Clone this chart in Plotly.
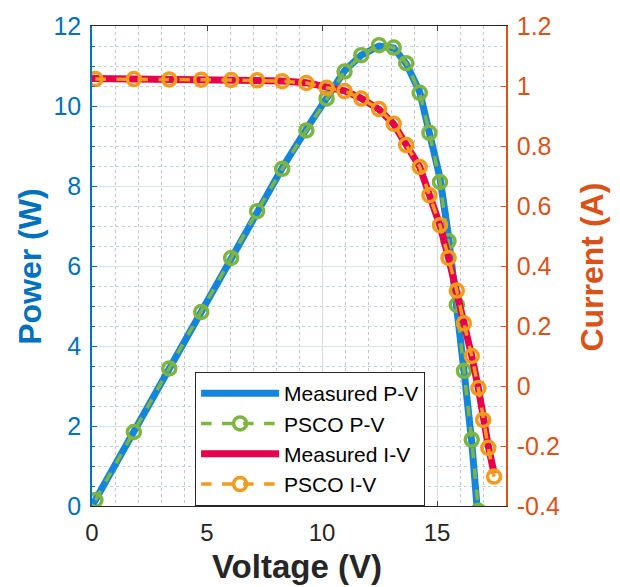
import plotly.graph_objects as go

# ---- data ----
voltage_psco = [0.15, 1.82, 3.36, 4.75, 6.05, 7.18, 8.27, 9.32, 10.2, 10.98, 11.71, 12.48,
                13.12, 13.66, 14.25, 14.67, 15.13, 15.5, 15.86, 16.17, 16.51, 16.8, 17.01,
                17.23, 17.48]
power_psco = [0.15, 1.85, 3.44, 4.85, 6.2, 7.37, 8.43, 9.39, 10.19, 10.86, 11.27, 11.52,
              11.46, 11.07, 10.33, 9.33, 8.1, 6.62, 5.03, 3.38, 1.66, -0.12, -1.9, -3.55, -5.3]
current_psco = [1.023, 1.023, 1.022, 1.021, 1.02, 1.019, 1.016, 1.01, 0.994, 0.983, 0.958,
                0.923, 0.874, 0.803, 0.73, 0.636, 0.536, 0.427, 0.318, 0.209, 0.1, -0.007,
                -0.113, -0.206, -0.302]

voltage_meas = [0.0, 1.82, 3.36, 4.75, 6.05, 7.18, 8.27, 9.32, 10.2, 10.98, 11.71, 12.48,
                13.12, 13.66, 14.25, 14.67, 15.13, 15.5, 15.86, 16.17, 16.51, 16.8, 17.01,
                17.23, 17.48]
power_meas = [0.0, 1.86, 3.44, 4.86, 6.19, 7.35, 8.45, 9.42, 10.2, 10.88, 11.27, 11.5,
              11.45, 11.06, 10.35, 9.38, 8.2, 6.75, 5.1, 3.4, 1.6, -0.3, -2.0, -3.6, -5.2]
current_meas = [1.025, 1.024, 1.023, 1.022, 1.021, 1.02, 1.017, 1.011, 0.996, 0.984, 0.959,
                0.922, 0.873, 0.804, 0.73, 0.637, 0.535, 0.428, 0.318, 0.21, 0.1, -0.008,
                -0.11, -0.2, -0.29]

x_ticks = [0, 5, 10, 15]
y_left_ticks = [0, 2, 4, 6, 8, 10, 12]
y_right_ticks = [-0.4, -0.2, 0, 0.2, 0.4, 0.6, 0.8, 1.0, 1.2]
y_right_labels = ["-0.4", "-0.2", "0", "0.2", "0.4", "0.6", "0.8", "1", "1.2"]

BLUE_AX = "#0072BD"
ORANGE_AX = "#D95319"
FONT = "Liberation Sans, Arial, sans-serif"

fig = go.Figure()
fig.add_trace(go.Scatter(x=voltage_meas, y=power_meas, mode="lines", name="Measured P-V",
                         line=dict(color="#1485DC", width=7), yaxis="y"))
fig.add_trace(go.Scatter(x=voltage_psco, y=power_psco, mode="lines+markers", name="PSCO P-V",
                         line=dict(color="#7DB540", width=3.5, dash="dash"),
                         marker=dict(symbol="circle-open", size=13, color="#7DB540",
                                     line=dict(width=3.5, color="#7DB540")), yaxis="y"))
fig.add_trace(go.Scatter(x=voltage_meas, y=current_meas, mode="lines", name="Measured I-V",
                         line=dict(color="#E6004C", width=7), yaxis="y2"))
fig.add_trace(go.Scatter(x=voltage_psco, y=current_psco, mode="lines+markers", name="PSCO I-V",
                         line=dict(color="#F29B1D", width=3.5, dash="dash"),
                         marker=dict(symbol="circle-open", size=13, color="#F29B1D",
                                     line=dict(width=3.5, color="#F29B1D")), yaxis="y2"))

fig.update_layout(
    width=620, height=587,
    margin=dict(l=92, r=114, t=17, b=81),
    paper_bgcolor="white", plot_bgcolor="white",
    font=dict(family=FONT, size=24, color="#262626"),
    showlegend=True,
    legend=dict(x=0.249, y=0.0, xanchor="left", yanchor="bottom",
                bgcolor="white", bordercolor="#262626", borderwidth=1,
                font=dict(family=FONT, size=21, color="#000000"),
                tracegroupgap=0, itemwidth=78),
    xaxis=dict(range=[0, 18], tickvals=x_ticks, ticks="inside", ticklen=5,
               showline=True, linecolor="#262626", linewidth=1.2, mirror="ticks",
               showgrid=True, gridcolor="#DCDCDC", gridwidth=1, zeroline=False,
               tickfont=dict(size=24, color="#262626"), ticklabelstandoff=5,
               minor=dict(dtick=1, showgrid=True, gridcolor="#C4C4C4", griddash="dot", gridwidth=1)),
    yaxis=dict(range=[0, 12], tickvals=y_left_ticks, ticks="inside", ticklen=5,
               showline=True, linecolor=BLUE_AX, linewidth=1.5, tickcolor=BLUE_AX,
               showgrid=True, gridcolor="#D3E3F1", gridwidth=1, zeroline=False,
               tickfont=dict(size=25, color=BLUE_AX), ticklabelstandoff=4,
               minor=dict(dtick=0.5, showgrid=True, gridcolor="#BBD4EA", griddash="dot", gridwidth=1,
                          ticks="inside", ticklen=3, tickcolor=BLUE_AX)),
    yaxis2=dict(range=[-0.4, 1.2], tickvals=y_right_ticks, ticktext=y_right_labels,
                overlaying="y", side="right", ticks="inside", ticklen=5,
                showline=True, linecolor=ORANGE_AX, linewidth=1.5, tickcolor=ORANGE_AX,
                showgrid=False, zeroline=False,
                tickfont=dict(size=25, color=ORANGE_AX), ticklabelstandoff=4),
    annotations=[
        dict(text="<b>Voltage (V)</b>", xref="paper", yref="paper", x=0.496, y=-0.1265,
             xanchor="center", yanchor="middle", showarrow=False,
             font=dict(family=FONT, size=33, color="#262626")),
        dict(text="<b>Power (W)</b>", xref="paper", yref="paper", x=-0.150, y=0.498,
             xanchor="center", yanchor="middle", showarrow=False, textangle=-90,
             font=dict(family=FONT, size=32, color=BLUE_AX)),
        dict(text="<b>Current (A)</b>", xref="paper", yref="paper", x=1.208, y=0.497,
             xanchor="center", yanchor="middle", showarrow=False, textangle=-90,
             font=dict(family=FONT, size=32, color=ORANGE_AX)),
    ],
)

fig.write_html("out.html", config={"displayModeBar": False},
               post_script="document.body.style.margin='0';")
